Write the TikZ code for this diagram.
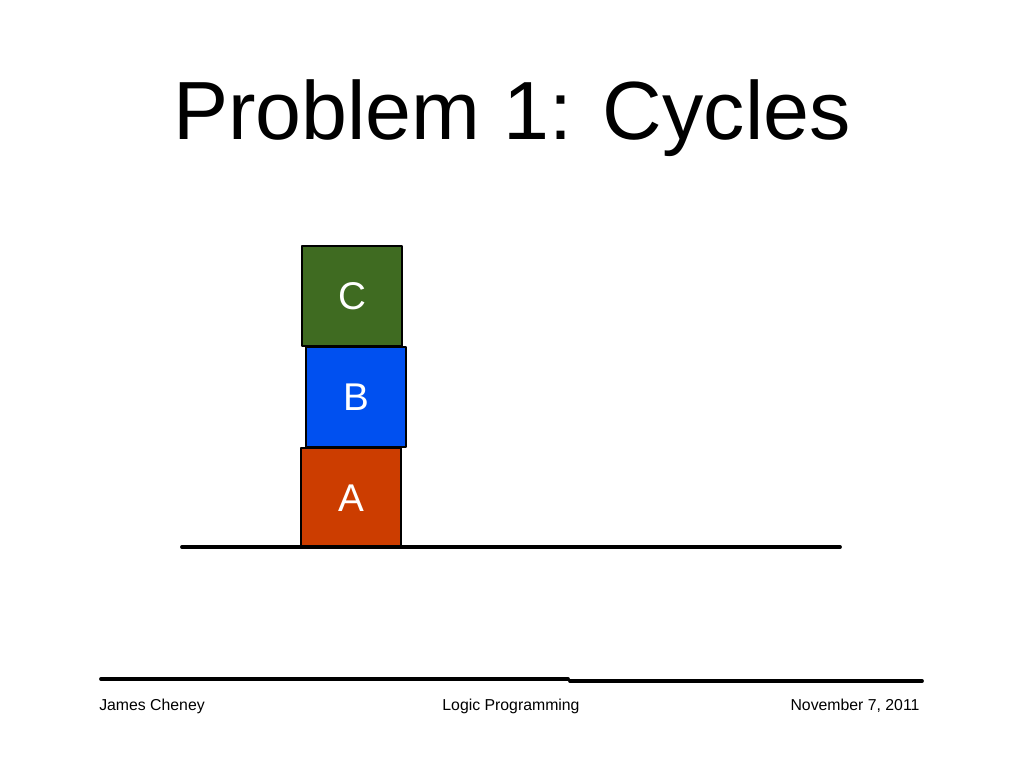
\documentclass[tikz,border=0pt]{standalone}
\usepackage{fontspec}
\setmainfont{Liberation Sans}
\definecolor{blockgreen}{HTML}{3F6B21}
\definecolor{blockblue}{HTML}{0050F0}
\definecolor{blockred}{HTML}{CC3D00}
\tikzset{
  block/.style={draw=black,line width=1.4pt,minimum width=2cm,minimum height=2cm,
    text=white,font=\fontsize{22}{24}\selectfont,inner sep=0pt},
  footer/.style={font=\fontsize{9}{10}\selectfont},
}
\begin{document}
\begin{tikzpicture}[line cap=round,line join=round,x=0.02cm,y=-0.02cm]
\useasboundingbox (0,0) rectangle (1024,768);

\node (title) at (512,118) {\fontsize{47}{50}\selectfont Problem 1: Cycles};
%%
\node [block,fill=blockred] (A) at (351,498) {A};
\node [block,fill=blockblue] (B) at (356,397) {B};
\node [block,fill=blockgreen] (C) at (352,296) {C};
%%
\coordinate (g1) at (182,547);
\coordinate (g2) at (840,547);
\draw [line width=2.2pt] (g1) -- (g2);
%%
\coordinate (f1) at (101,679);
\coordinate (f2) at (568,679);
\coordinate (f3) at (570,681);
\coordinate (f4) at (922,681);
\draw [line width=2.2pt] (f1) -- (f2);
\draw [line width=2.2pt] (f3) -- (f4);
%%
\node [footer] (author) at (152,706) {James Cheney};
\node [footer] (course) at (511,706) {Logic Programming};
\node [footer] (date) at (855,706) {November 7, 2011};
\end{tikzpicture}
\end{document}
